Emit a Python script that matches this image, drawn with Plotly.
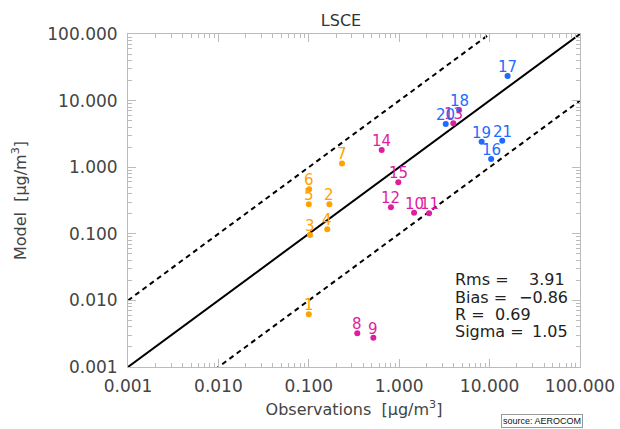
import math
import plotly.graph_objects as go

# ---- data ----
station_ids = [str(i) for i in range(1, 22)]
obs = [0.10, 0.169, 0.103, 0.16, 0.10, 0.101, 0.233,
       0.344, 0.518, 1.46, 2.14, 0.81, 3.97, 0.64, 0.977,
       10.4, 15.8, 4.6, 8.17, 3.27, 13.8]
model = [0.0062, 0.277, 0.096, 0.117, 0.277, 0.466, 1.14,
         0.0032, 0.00275, 0.207, 0.203, 0.25, 4.56, 1.81, 0.593,
         1.33, 23.4, 7.2, 2.41, 4.46, 2.5]
groups = ["a"] * 7 + ["b"] * 8 + ["c"] * 6
group_colors = {"a": "#FFA200", "b": "#DE1E9E", "c": "#1F6BFF"}

tick_vals = [0.001, 0.01, 0.1, 1, 10, 100]
tick_text = ["0.001", "0.010", "0.100", "1.000", "10.000", "100.000"]
minor_vals = [m * d for d in tick_vals[:-1] for m in range(2, 10)]

line_x = [0.001, 100]
factor = 10

stat_names = ["Rms =", "Bias =", "R =", "Sigma ="]
stat_values = ["3.91", "\u22120.86", "0.69", "1.05"]

# plot-area geometry in pixels
L, T, W, H = 128, 34, 452, 333


def px_x(p):
    return (p - L) / W


def px_y(p):
    return 1 - (p - T) / H


fig = go.Figure()

fig.add_trace(go.Scatter(x=line_x, y=line_x, mode="lines",
                         line=dict(color="black", width=2), showlegend=False))
fig.add_trace(go.Scatter(x=line_x, y=[v * factor for v in line_x], mode="lines",
                         line=dict(color="black", width=2, dash="5px,4px"), showlegend=False))
fig.add_trace(go.Scatter(x=line_x, y=[v / factor for v in line_x], mode="lines",
                         line=dict(color="black", width=2, dash="5px,4px"), showlegend=False))

annotations = []
for g, col in group_colors.items():
    idx = [i for i, gg in enumerate(groups) if gg == g]
    fig.add_trace(go.Scatter(
        x=[obs[i] for i in idx], y=[model[i] for i in idx],
        mode="markers", marker=dict(color=col, size=6),
        cliponaxis=False, showlegend=False))
    for i in idx:
        annotations.append(dict(
            x=math.log10(obs[i]), y=math.log10(model[i]), xref="x", yref="y",
            text=station_ids[i], showarrow=False, xanchor="center", yanchor="bottom",
            yshift=-1, borderpad=0,
            font=dict(family="DejaVu Sans", size=15, color=col)))

axis_common = dict(
    type="log", range=[-3, 2], tickmode="array", tickvals=tick_vals, ticktext=tick_text,
    showgrid=False, zeroline=False, showline=True, linecolor="#BBBBBB",
    linewidth=1, mirror="ticks", ticks="inside", ticklen=8, tickcolor="#BBBBBB",
    minor=dict(tickmode="array", tickvals=minor_vals, ticks="inside", ticklen=4,
               tickcolor="#BBBBBB", showgrid=False),
    tickfont=dict(family="DejaVu Sans", size=17, color="#444444"),
    automargin=False,
)

fig.update_xaxes(**axis_common, ticklabelstandoff=4,
                 title=dict(text="Observations  [\u03bcg/m<sup>3</sup>]",
                            font=dict(family="DejaVu Sans", size=16, color="#444444"),
                            standoff=8))
fig.update_yaxes(**axis_common, ticklabelstandoff=6,
                 title=dict(text="Model  [\u03bcg/m<sup>3</sup>]",
                            font=dict(family="DejaVu Sans", size=16, color="#444444"),
                            standoff=16))

line_y_px = [279, 297, 314, 331]
for k, (name, val) in enumerate(zip(stat_names, stat_values)):
    ypap = px_y(line_y_px[k])
    annotations.append(dict(xref="paper", yref="paper", x=px_x(453), y=ypap,
                            text=name, showarrow=False, xanchor="left", yanchor="middle",
                            font=dict(family="DejaVu Sans", size=16, color="#222222")))
    if name == "R =":
        annotations.append(dict(xref="paper", yref="paper", x=px_x(493), y=ypap,
                                text=val, showarrow=False, xanchor="left", yanchor="middle",
                                font=dict(family="DejaVu Sans", size=16, color="#222222")))
    else:
        xr = 567 if k == 0 else 570
        annotations.append(dict(xref="paper", yref="paper", x=px_x(xr), y=ypap,
                                text=val, showarrow=False, xanchor="right", yanchor="middle",
                                font=dict(family="DejaVu Sans", size=16, color="#222222")))

annotations.append(dict(xref="paper", yref="paper", x=px_x(542), y=px_y(421),
                        text="source: AEROCOM", showarrow=False,
                        xanchor="center", yanchor="middle", bordercolor="#999999",
                        borderwidth=1, borderpad=1, bgcolor="white",
                        font=dict(family="Liberation Sans", size=9, color="#111111")))

fig.update_layout(
    width=620, height=429,
    margin=dict(l=L, r=620 - L - W, t=T, b=429 - T - H),
    paper_bgcolor="white", plot_bgcolor="white",
    title=dict(text="LSCE", x=341 / 620.0, xanchor="center", xref="container",
               y=1 - 20 / 429.0, yref="container", yanchor="middle",
               font=dict(family="DejaVu Sans", size=16, color="#333333")),
    annotations=annotations,
    showlegend=False,
)

fig.write_html("out.html", config={"displayModeBar": False},
               post_script="document.body.style.margin='0';document.body.style.overflow='hidden';")
